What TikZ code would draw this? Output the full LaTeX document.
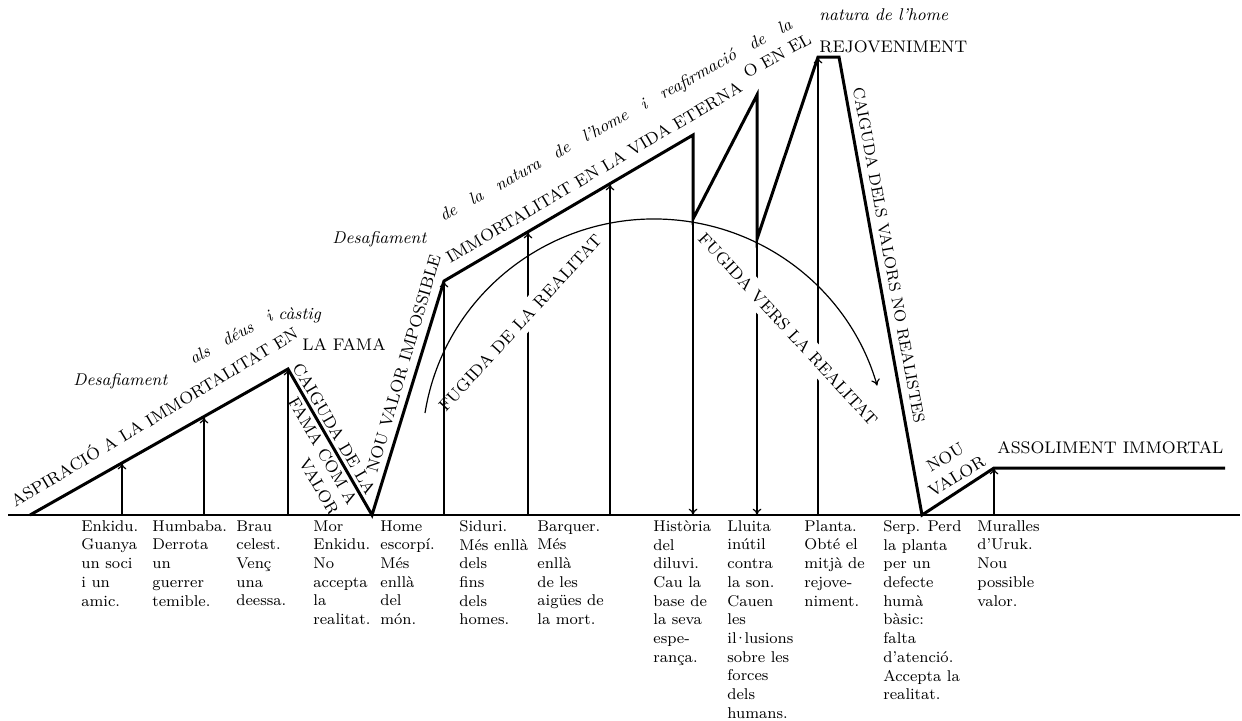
\documentclass[tikz,border=0pt]{standalone}
\usepackage{fontspec}
\usepackage{tikz}
\usetikzlibrary{arrows.meta}

\begin{document}
\begin{tikzpicture}[x=0.5pt, y=-0.5pt,
        valueline/.style={-, line width=1.5pt, line join=miter},
        eventarrow/.style={-{To[length=3.2pt,width=4.4pt]}, line width=0.6pt},
        capstext/.style={font=\fontsize{8.4}{9.6}\selectfont, inner sep=0pt},
        italtext/.style={font=\fontsize{8.5}{10}\selectfont\itshape, inner sep=0pt},
        escapetext/.style={capstext, fill=white, inner xsep=0pt, inner ysep=3pt},
        eventtext/.style={font=\fontsize{7.8}{9.35}\selectfont, inner sep=0pt, align=left, anchor=north west}]
        \useasboundingbox (0,0) rectangle (1242,720);
        \coordinate (b0) at (8,515);
        \coordinate (b1) at (1240,515);
        \draw[-, line width=0.6pt] (b0) -- (b1);
        \coordinate (v0) at (30,515);
        \coordinate (v1) at (288,369);
        \coordinate (v2) at (372,515);
        \coordinate (v3) at (444,281);
        \coordinate (v4) at (693,135);
        \coordinate (v5) at (693,219);
        \coordinate (v6) at (757,95);
        \coordinate (v7) at (757,239);
        \coordinate (v8) at (818,57);
        \coordinate (v9) at (839,57);
        \coordinate (v10) at (922,515);
        \coordinate (v11) at (994,468);
        \coordinate (v12) at (1225,468);
        \coordinate (e1) at (122,515);
        \coordinate (t1) at (122,463);
        \coordinate (e2) at (204,515);
        \coordinate (t2) at (204,417);
        \coordinate (e3) at (288,515);
        \coordinate (e4) at (444,515);
        \coordinate (e5) at (528,515);
        \coordinate (t5) at (528,232);
        \coordinate (e6) at (610,515);
        \coordinate (t6) at (610,184);
        \coordinate (e7) at (693,515);
        \coordinate (e8) at (757,515);
        \coordinate (e9) at (818,515);
        \coordinate (e10) at (994,515);
        \draw[eventarrow] (e5) -- (t5);
        \draw[eventarrow] (v7) -- (e8);
        \draw[eventarrow] (e9) -- (v8);
        \node[escapetext, rotate=47.5] (fugida1) at (520,323) {FUGIDA DE LA REALITAT};
        \node[escapetext, rotate=-47.3] (fugida2) at (788,329) {FUGIDA VERS LA REALITAT};
        \draw[valueline] (v0) -- (v1) -- (v2) -- (v3) -- (v4) -- (v5) -- (v6) -- (v7)
            -- (v8) -- (v9) -- (v10) -- (v11) -- (v12);
        \draw[eventarrow] (e1) -- (t1);
        \draw[eventarrow] (e2) -- (t2);
        \draw[eventarrow] (e3) -- (v1);
        \draw[eventarrow] (e4) -- (v3);
        \draw[eventarrow] (e6) -- (t6);
        \draw[eventarrow] (v5) -- (e7);
        \draw[eventarrow] (e10) -- (v11);
        \coordinate (arcstart) at (425,413);
        \draw[eventarrow] (arcstart) arc[start angle=-171, end angle=-16, x radius=232, y radius=230];

        \node[capstext, anchor=base west, rotate=31] (aspiracio) at (15,508) {ASPIRACIÓ A LA IMMORTALITAT EN};
        \node[capstext, anchor=base west] (fama) at (302,350) {LA FAMA};
        \node[italtext, anchor=base west] (desaf1) at (73,385) {Desafiament};
        \node[italtext, anchor=base west, rotate=29] (deus) at (193,365) {\makebox[46pt][s]{als déus i}};
        \node[italtext, anchor=base west] (castig) at (278,319) {càstig};
        \node[capstext, font=\fontsize{8.4}{10.5}\selectfont, align=right, rotate=-60] (caiguda1) at (316,439) {CAIGUDA DE LA\\FAMA COM A\\VALOR};
        \node[capstext, anchor=base west, rotate=73.6] (impossible) at (377,474) {NOU VALOR IMPOSSIBLE};
        \node[capstext, anchor=base west, rotate=30.5] (eterna) at (450,264) {IMMORTALITAT EN LA VIDA ETERNA};
        \node[capstext, anchor=base west, rotate=29] (enel) at (747,79) {O EN EL};
        \node[capstext, anchor=base west] (rejov) at (819,52) {REJOVENIMENT};
        \node[italtext, anchor=base west] (desaf2) at (332,243) {Desafiament};
        \node[italtext, anchor=base west, rotate=29] (natura1) at (443,222) {\makebox[200pt][s]{de la natura de l'home i reafirmació de la}};
        \node[italtext, anchor=base west] (natura2) at (819,20) {natura de l'home};
        \node[capstext, font=\fontsize{8}{9.6}\selectfont, rotate=-79.6] (caiguda2) at (889,255) {CAIGUDA DELS VALORS NO REALISTES};
        \node[capstext, font=\fontsize{8.4}{11}\selectfont, align=center, rotate=31] (nouvalor) at (951,467) {NOU\\VALOR};
        \node[capstext, anchor=base west] (assoliment) at (997,453) {ASSOLIMENT IMMORTAL};

        \node[eventtext] (enkidu) at (81,520) {Enkidu.\\Guanya\\un soci\\i un\\amic.};
        \node[eventtext] (humbaba) at (152,520) {Humbaba.\\Derrota\\un\\guerrer\\temible.};
        \node[eventtext] (brau) at (236,520) {Brau\\celest.\\Venç\\una\\deessa.};
        \node[eventtext] (mor) at (313,520) {Mor\\Enkidu.\\No\\accepta\\la\\realitat.};
        \node[eventtext] (escorpi) at (380,520) {Home\\escorpí.\\Més\\enllà\\del\\món.};
        \node[eventtext] (siduri) at (459,520) {Siduri.\\Més enllà\\dels\\fins\\dels\\homes.};
        \node[eventtext] (barquer) at (537,520) {Barquer.\\Més\\enllà\\de les\\aigües de\\la mort.};
        \node[eventtext] (diluvi) at (653,520) {Història\\del\\diluvi.\\Cau la\\base de\\la seva\\espe-\\rança.};
        \node[eventtext] (son) at (727,520) {Lluita\\inútil\\contra\\la son.\\Cauen\\les\\il\kern-0.16em·\kern-0.16em lusions\\sobre les\\forces\\dels\\humans.};
        \node[eventtext] (planta) at (804,520) {Planta.\\Obté el\\mitjà de\\rejove-\\niment.};
        \node[eventtext] (serp) at (883,520) {Serp. Perd\\la planta\\per un\\defecte\\humà\\bàsic:\\falta\\d'atenció.\\Accepta la\\realitat.};
        \node[eventtext] (muralles) at (977,520) {Muralles\\d'Uruk.\\Nou\\possible\\valor.};
    \end{tikzpicture}
\end{document}
